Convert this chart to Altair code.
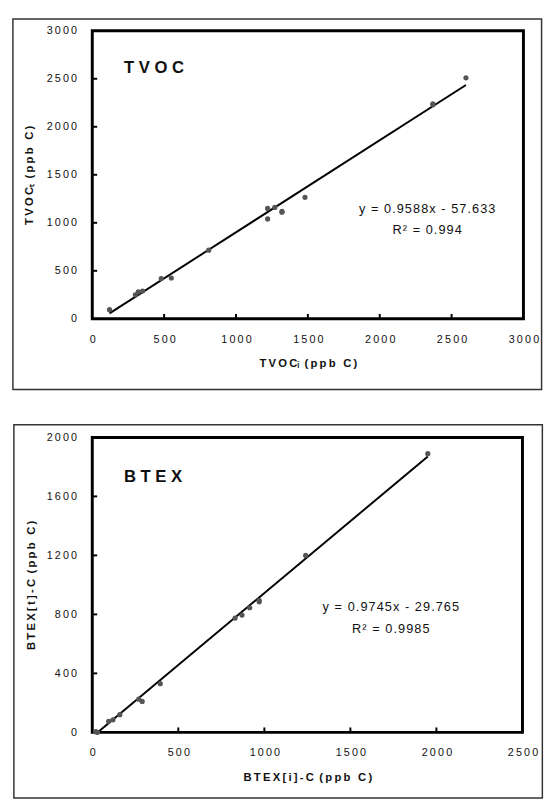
import altair as alt
import pandas as pd

# ---------------- data ----------------
tvoc_x = [120, 300, 320, 350, 480, 550, 810, 1220, 1220, 1270, 1320, 1320, 1480, 2370, 2370, 2600]
tvoc_y = [95, 250, 280, 290, 420, 425, 715, 1150, 1040, 1160, 1120, 1110, 1265, 2230, 2240, 2510]
tvoc_slope, tvoc_int = 0.9588, -57.633
tvoc_ticks = [0, 500, 1000, 1500, 2000, 2500, 3000]

btex_x = [20, 30, 95, 120, 160, 270, 290, 395, 830, 870, 915, 970, 970, 1240, 1950]
btex_y = [5, 0, 75, 85, 120, 225, 210, 330, 775, 795, 845, 885, 895, 1200, 1890]
btex_slope, btex_int = 0.9745, -29.765
btex_xticks = [0, 500, 1000, 1500, 2000, 2500]
btex_yticks = [0, 400, 800, 1200, 1600, 2000]

FONT = "Liberation Sans"
TS = "\u2009"   # thin space (letter spacing of titles)
HS = "\u200a"   # hair space (letter spacing of equations)
LABEL_EXPR = "join(split(datum.label, ''), '\u2009')"


def spaced(s, sep=TS):
    return sep.join(list(s))


def panel(xs, ys, slope, intercept, xticks, yticks, xdom, ydom, label, label_xy,
          eq, r2, eq_xy, r2_xy, xtitle, ytitle, W, H, frame, ytitle_pad):
    pts = pd.DataFrame({"x": xs, "y": ys})
    xsc = alt.Scale(domain=xdom, nice=False, zero=False)
    ysc = alt.Scale(domain=ydom, nice=False, zero=False)
    xax = alt.Axis(values=xticks, format="d", labelExpr=LABEL_EXPR, ticks=False, domain=False,
                   grid=False, labelFont=FONT, labelFontSize=11, labelColor="#111", labelPadding=15,
                   title=xtitle, titleFont=FONT, titleFontSize=11.5, titleFontWeight="bold",
                   titlePadding=14, titleColor="#111", labelFlush=False)
    yax = alt.Axis(values=yticks, format="d", labelExpr=LABEL_EXPR, ticks=False, domain=False,
                   grid=False, labelFont=FONT, labelFontSize=11, labelColor="#111",
                   labelPadding=16,
                   title=ytitle, titleFont=FONT, titleFontSize=11.5, titleFontWeight="bold",
                   titlePadding=ytitle_pad, titleColor="#111", labelFlush=False)

    points = alt.Chart(pts).mark_circle(size=28, color="#555555", opacity=1).encode(
        x=alt.X("x:Q", scale=xsc, axis=xax),
        y=alt.Y("y:Q", scale=ysc, axis=yax),
    )
    line_df = pd.DataFrame({"x": [min(xs), max(xs)]})
    line = alt.Chart(line_df).transform_calculate(
        y=f"{slope}*datum.x + ({intercept})"
    ).mark_line(color="black", strokeWidth=2).encode(x="x:Q", y="y:Q")

    xt = pd.DataFrame({"v": xticks[1:-1]})
    xtick = alt.Chart(xt).mark_rule(color="black", strokeWidth=2).encode(
        x="v:Q", y=alt.value(H), y2=alt.value(H - 5))
    yt = pd.DataFrame({"v": yticks[1:-1]})
    ytick = alt.Chart(yt).mark_rule(color="black", strokeWidth=2).encode(
        y="v:Q", x=alt.value(0), x2=alt.value(5))

    lab = alt.Chart(pd.DataFrame({"x": [label_xy[0]], "y": [label_xy[1]], "t": [label]})).mark_text(
        font=FONT, fontSize=17, fontWeight="bold", align="left", baseline="middle", color="#111"
    ).encode(x="x:Q", y="y:Q", text="t:N")

    eqs = alt.Chart(pd.DataFrame({"x": [eq_xy[0], r2_xy[0]], "y": [eq_xy[1], r2_xy[1]],
                                  "t": [eq, r2]})).mark_text(
        font=FONT, fontSize=13, align="center", baseline="middle", color="#111"
    ).encode(x="x:Q", y="y:Q", text="t:N")

    fr = alt.Chart(pd.DataFrame({"a": [0]})).mark_rect(
        fill=None, stroke="#333333", strokeWidth=1.5
    ).encode(x=alt.value(frame[0]), x2=alt.value(frame[1]),
             y=alt.value(frame[2]), y2=alt.value(frame[3]))

    return alt.layer(fr, line, points, xtick, ytick, lab, eqs).properties(width=W, height=H)


GAP = " " + TS

top = panel(tvoc_x, tvoc_y, tvoc_slope, tvoc_int, tvoc_ticks, tvoc_ticks, [0, 3000], [0, 3000],
            "T V O C", (220, 2610),
            spaced("y = 0.9588x - 57.633", HS), spaced("R\u00b2 = 0.994", HS),
            (2330, 1147), (2330, 923),
            spaced("TVOC") + "\u1d62" + GAP + spaced("(ppb C)"),
            spaced("TVOC") + "\u209c" + GAP + spaced("(ppb C)"),
            440, 294, (-81, 458.5, -12, 366), 12)

bottom = panel(btex_x, btex_y, btex_slope, btex_int, btex_xticks, btex_yticks, [0, 2500], [0, 2000],
               "B T E X", (184, 1734),
               spaced("y = 0.9745x - 29.765", HS), spaced("R\u00b2 = 0.9985", HS),
               (1735, 850), (1735, 698),
               spaced("BTEX[i]-C") + GAP + spaced("(ppb C)"),
               spaced("BTEX[t]-C") + GAP + spaced("(ppb C)"),
               439, 301, (-80, 459.3, -13, 368), 10)

chart = alt.vconcat(top, bottom, spacing=30).properties(
    padding={"left": 2, "top": 0, "right": 0, "bottom": 0},
    background="white",
).configure_view(stroke="black", strokeWidth=3)

chart.save("out.html", embed_options={"renderer": "svg", "actions": False})
